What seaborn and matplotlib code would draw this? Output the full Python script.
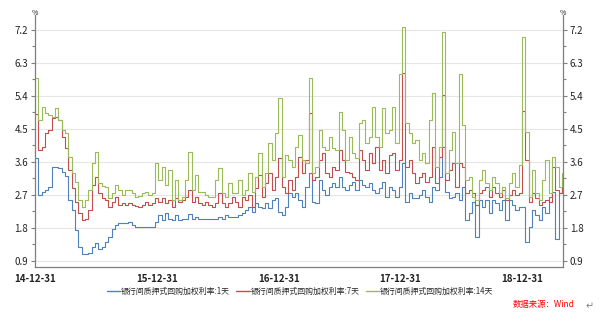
import numpy as np
import pandas as pd
import matplotlib
matplotlib.use("Agg")
import matplotlib.pyplot as plt
import matplotlib.dates as mdates
from matplotlib.ticker import FixedLocator
import seaborn as sns

start_date = "2014-12-31"
n_points = 159
series_names = ["银行间质押式回购加权利率:1天", "银行间质押式回购加权利率:7天", "银行间质押式回购加权利率:14天"]

rate_1d = [
    3.70, 2.69, 2.78, 2.83, 2.92, 3.47, 3.47, 3.42, 3.33, 3.21,
    2.56, 2.28, 1.73, 1.28, 1.07, 1.07, 1.12, 1.28, 1.37, 1.21,
    1.28, 1.42, 1.55, 1.75, 1.87, 1.92, 1.92, 1.92, 1.96, 1.87,
    1.83, 1.83, 1.83, 1.83, 1.83, 1.83, 1.96, 2.15, 2.01, 2.19,
    2.05, 2.01, 2.15, 2.01, 2.03, 2.05, 2.17, 2.05, 2.10, 2.05,
    2.03, 2.05, 2.03, 2.03, 2.05, 2.10, 2.05, 2.15, 2.10, 2.10,
    2.10, 2.15, 2.19, 2.28, 2.37, 2.24, 2.46, 2.37, 2.33, 2.46,
    2.33, 2.55, 2.60, 2.24, 2.15, 2.37, 2.74, 2.65, 2.74, 2.55,
    2.37, 2.92, 3.28, 2.51, 2.46, 3.10, 2.83, 2.69, 2.92, 3.01,
    2.92, 3.19, 2.92, 2.83, 2.96, 3.06, 2.83, 3.10, 2.96, 2.92,
    3.01, 2.83, 2.74, 2.87, 3.06, 2.65, 2.92, 2.83, 2.65, 2.92,
    3.56, 2.51, 2.74, 2.60, 2.60, 2.69, 2.83, 2.65, 2.51, 2.92,
    2.83, 3.19, 4.01, 2.78, 2.60, 2.65, 2.74, 2.55, 2.92, 2.01,
    2.19, 2.51, 1.55, 2.55, 2.37, 2.55, 2.19, 2.55, 2.46, 2.28,
    2.55, 2.01, 2.55, 2.42, 2.28, 2.37, 2.37, 1.42, 1.83, 2.28,
    2.14, 2.01, 2.37, 2.19, 2.65, 2.78, 1.50, 2.74, 2.87,
]
rate_7d = [
    4.90, 3.92, 4.00, 4.38, 4.47, 4.79, 4.83, 4.74, 4.28, 3.97,
    3.38, 2.87, 2.51, 2.19, 2.01, 2.05, 2.28, 2.96, 3.19, 2.74,
    2.60, 2.56, 2.37, 2.51, 2.65, 2.42, 2.46, 2.42, 2.46, 2.42,
    2.39, 2.37, 2.42, 2.51, 2.42, 2.46, 2.60, 2.51, 2.60, 2.46,
    2.55, 2.37, 2.60, 2.51, 2.55, 2.65, 2.83, 2.51, 2.65, 2.46,
    2.42, 2.51, 2.42, 2.37, 2.46, 2.74, 2.46, 2.37, 2.46, 2.65,
    2.51, 2.37, 2.65, 2.55, 2.69, 2.37, 2.88, 3.24, 2.65, 3.01,
    3.28, 2.83, 3.19, 3.69, 2.92, 2.74, 3.10, 2.83, 3.19, 3.74,
    3.28, 3.65, 4.92, 3.10, 3.19, 3.65, 3.83, 3.28, 3.19, 3.46,
    3.37, 3.92, 3.65, 3.33, 3.28, 3.19, 3.10, 3.92, 3.65, 3.37,
    3.83, 3.56, 4.01, 3.37, 3.65, 3.28, 3.78, 3.83, 3.37, 3.65,
    6.02, 3.46, 3.65, 3.28, 3.01, 3.19, 3.28, 3.06, 3.19, 4.01,
    3.01, 3.74, 5.42, 3.10, 3.37, 3.56, 2.92, 3.56, 3.46, 2.74,
    2.83, 2.74, 2.42, 2.74, 2.83, 2.92, 2.65, 2.92, 2.74, 2.65,
    2.83, 2.55, 2.69, 2.83, 2.69, 2.74, 5.00, 3.65, 2.51, 2.74,
    2.60, 2.42, 2.51, 2.55, 2.51, 3.46, 2.83, 2.74, 3.10,
]
rate_14d = [
    5.90, 4.74, 5.10, 4.92, 4.88, 4.83, 5.06, 4.74, 4.47, 4.38,
    3.74, 3.28, 3.06, 2.56, 2.37, 2.56, 2.83, 3.56, 3.88, 3.01,
    2.94, 2.92, 2.60, 2.74, 2.96, 2.83, 2.69, 2.83, 2.83, 2.74,
    2.65, 2.67, 2.74, 2.78, 2.69, 2.74, 3.56, 3.10, 3.47, 2.96,
    3.37, 2.55, 3.10, 2.55, 2.65, 3.10, 3.88, 2.83, 3.24, 2.78,
    2.78, 2.69, 2.65, 2.65, 3.10, 3.42, 2.74, 2.65, 3.01, 2.74,
    2.74, 3.10, 2.69, 2.83, 3.28, 2.78, 3.19, 3.83, 2.92, 3.28,
    4.10, 3.65, 4.38, 5.33, 3.19, 3.78, 3.65, 3.46, 4.00, 4.33,
    3.65, 3.56, 5.90, 3.28, 3.46, 4.47, 4.00, 3.92, 4.29, 3.97,
    3.92, 4.97, 4.47, 3.65, 4.29, 3.83, 3.69, 4.65, 4.74, 4.10,
    4.29, 5.10, 4.29, 4.01, 5.06, 4.38, 4.47, 5.10, 4.10, 6.00,
    7.27, 4.65, 4.38, 4.10, 4.20, 3.65, 3.83, 3.56, 4.74, 5.47,
    3.46, 4.01, 7.15, 3.28, 3.92, 4.42, 3.56, 6.00, 4.60, 3.10,
    3.19, 2.65, 2.55, 3.10, 3.37, 3.01, 2.83, 3.19, 3.01, 2.74,
    2.92, 2.60, 3.01, 3.28, 2.92, 3.50, 7.00, 4.40, 2.65, 3.37,
    2.74, 2.55, 3.10, 3.65, 2.74, 3.74, 3.46, 2.92, 3.28,
]
y_ticks = [0.9, 1.8, 2.7, 3.6, 4.5, 5.4, 6.3, 7.2]
x_tick_dates = ["2014-12-31", "2015-12-31", "2016-12-31", "2017-12-31", "2018-12-31"]

dates = pd.date_range(start_date, periods=n_points, freq="10D")
df = pd.DataFrame({"date": dates, series_names[0]: rate_1d,
                   series_names[1]: rate_7d, series_names[2]: rate_14d})
long = df.melt(id_vars="date", var_name="series", value_name="rate")

sns.set_theme(style="white")
plt.rcParams["font.family"] = ["Noto Sans CJK SC", "DejaVu Sans"]
plt.rcParams["axes.unicode_minus"] = False

colors = ["#4f81bd", "#c0504d", "#9bbb59"]

fig = plt.figure(figsize=(6.11, 3.28), dpi=100)
ax = fig.add_axes([35 / 611, 1 - 267 / 328, (563 - 35) / 611, (267 - 15) / 328])

sns.lineplot(data=long, x="date", y="rate", hue="series", hue_order=series_names,
             palette=colors, linewidth=0.8, ax=ax, legend=False,
             drawstyle="steps-post")

ax.set_xlim(pd.Timestamp("2014-12-31"), pd.Timestamp("2019-05-02"))
ax.set_ylim(0.725, 7.61)
ax.set_xlabel("")
ax.set_ylabel("")

spine_col = "#7f7f7f"
for s in ["left", "bottom", "right"]:
    ax.spines[s].set_visible(True)
    ax.spines[s].set_color(spine_col)
    ax.spines[s].set_linewidth(0.9)
ax.spines["top"].set_visible(False)

ax.yaxis.set_major_locator(FixedLocator(y_ticks))
ax.yaxis.set_minor_locator(FixedLocator([v + 0.45 for v in y_ticks]))
ax.set_yticklabels([f"{v:.1f}" for v in y_ticks])
ax.grid(axis="y", which="major", color="#e6e6e6", linewidth=0.8)
ax.set_axisbelow(True)

xt = [pd.Timestamp(d) for d in x_tick_dates]
ax.set_xticks(xt)
ax.set_xticklabels([d.strftime("%y-%m-%d") for d in xt], fontsize=7, fontweight="bold", color="#222222")
ax.xaxis.set_minor_locator(FixedLocator(mdates.date2num(
    pd.date_range("2015-03-31", "2019-04-30", freq="QE"))))

ax.tick_params(axis="both", which="both", direction="out", colors=spine_col,
               labelcolor="#222222", labelsize=7)
ax.tick_params(axis="y", which="both", left=True, right=True, labelleft=True, labelright=True, pad=2)
ax.tick_params(axis="y", which="major", length=3, width=0.8)
ax.tick_params(axis="y", which="minor", length=2, width=0.8)
ax.tick_params(axis="x", which="major", length=4, width=0.8, pad=1)
ax.tick_params(axis="x", which="minor", length=3, width=0.8)

fig.text(35 / 611, 1 - 13 / 328, "%", fontsize=5, ha="center", va="center", color="#222222")
fig.text(563 / 611, 1 - 13 / 328, "%", fontsize=5, ha="center", va="center", color="#222222")

handles = [plt.Line2D([0], [0], color=c, linewidth=1) for c in colors]
fig.legend(handles, series_names, loc="center", bbox_to_anchor=(300 / 611, 1 - 291 / 328),
           ncol=3, frameon=False, fontsize=5.7, handlelength=1.7, handletextpad=0.1,
           columnspacing=0.8, borderpad=0, borderaxespad=0)

fig.text(544 / 611, 1 - 304 / 328, "数据来源：Wind", fontsize=6, color="#ff0000",
         ha="center", va="center", style="italic")
fig.text(590 / 611, 1 - 306 / 328, "↵", fontsize=7, color="#808080", ha="center", va="center",
         family=["DejaVu Sans"])

fig.savefig("out.png", dpi=100)
